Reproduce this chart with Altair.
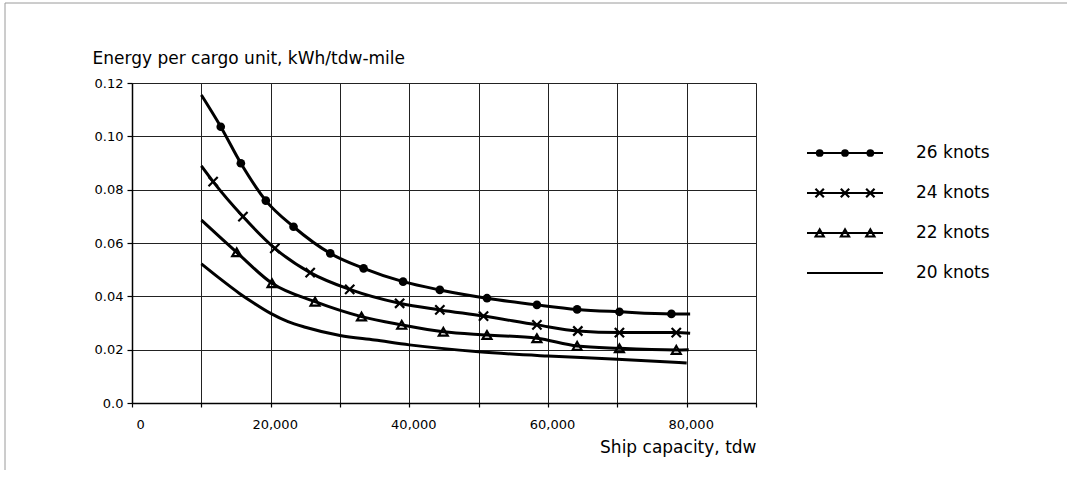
import altair as alt
import pandas as pd

# ---- data ----
series = ["26 knots", "24 knots", "22 knots", "20 knots"]

x26 = [10000, 12800, 15700, 19300, 23300, 28600, 33400, 39100, 44400, 51200, 58400, 64200, 70300, 77800, 80500]
y26 = [0.1155, 0.1036, 0.0899, 0.0759, 0.0661, 0.0561, 0.0505, 0.0455, 0.0424, 0.0393, 0.0368, 0.0351, 0.0342, 0.0334, 0.0334]
m26 = [0, 1, 1, 1, 1, 1, 1, 1, 1, 1, 1, 1, 1, 1, 0]

x24 = [10000, 11700, 16000, 20600, 25700, 31400, 38600, 44400, 50700, 58400, 64300, 70300, 78500, 80500]
y24 = [0.0889, 0.0830, 0.0699, 0.0580, 0.0489, 0.0426, 0.0374, 0.0349, 0.0326, 0.0293, 0.0270, 0.0264, 0.0264, 0.0262]
m24 = [0, 1, 1, 1, 1, 1, 1, 1, 1, 1, 1, 1, 1, 0]

x22 = [10000, 15100, 20200, 26400, 33100, 38900, 44900, 51200, 58400, 64200, 70300, 78500, 80300]
y22 = [0.0686, 0.0565, 0.0449, 0.0380, 0.0324, 0.0293, 0.0267, 0.0255, 0.0243, 0.0214, 0.0205, 0.0199, 0.0200]
m22 = [0, 1, 1, 1, 1, 1, 1, 1, 1, 1, 1, 1, 0]

x20 = [10000, 12500, 15500, 17500, 20000, 22500, 25000, 30000, 35000, 40000, 50000, 60000, 70000, 80000]
y20 = [0.0522, 0.0470, 0.0411, 0.0376, 0.0336, 0.0305, 0.0284, 0.0253, 0.0236, 0.0218, 0.0192, 0.0176, 0.0164, 0.0150]
m20 = [0] * len(x20)

x_ticks = list(range(0, 90001, 10000))
y_ticks = [0.0, 0.02, 0.04, 0.06, 0.08, 0.10, 0.12]
legend_slots = [1 / 6, 0.5, 5 / 6]

# ---- tables ----
rows = []
for name, xs, ys, ms in [("26 knots", x26, y26, m26), ("24 knots", x24, y24, m24),
                         ("22 knots", x22, y22, m22), ("20 knots", x20, y20, m20)]:
    for i, (xv, yv, mv) in enumerate(zip(xs, ys, ms)):
        rows.append({"series": name, "x": xv, "y": yv, "marker": mv, "order": i})
df = pd.DataFrame(rows)
df_m = df[df["marker"] == 1]

df_leg = pd.DataFrame({"series": series})
df_leg_m = pd.DataFrame([{"series": s, "slot": p} for s in series[:3] for p in legend_slots])

FONT = "DejaVu Sans"

x_axis = alt.Axis(
    values=x_ticks,
    labelExpr="datum.value % 20000 == 0 ? format(datum.value, ',') : ''",
    labelFontSize=13, labelPadding=11, labelOffset=4, tickSize=4,
    title="Ship capacity, tdw", titleFontSize=17, titleFontWeight="normal",
    titleAlign="right", titleAnchor="end", titleX=624, titleY=49, titleBaseline="alphabetic",
    grid=True,
)
y_axis = alt.Axis(
    values=y_ticks,
    labelExpr="datum.value == 0 ? '0.0' : format(datum.value, '.2f')",
    labelFontSize=13, labelPadding=4, tickSize=5,
    title="Energy per cargo unit, kWh/tdw-mile", titleFontSize=17, titleFontWeight="normal",
    titleAngle=0, titleAlign="left", titleX=-40, titleY=-20, titleBaseline="alphabetic",
    grid=True,
)
x_scale = alt.Scale(domain=[0, 90000], nice=False, zero=False)
y_scale = alt.Scale(domain=[0, 0.12], nice=False)
x_enc = alt.X("x:Q", scale=x_scale, axis=x_axis)
y_enc = alt.Y("y:Q", scale=y_scale, axis=y_axis)

lines = alt.Chart(df).mark_line(interpolate="monotone", color="black").encode(
    x=x_enc, y=y_enc, detail="series:N", order="order:Q",
    strokeWidth=alt.StrokeWidth("series:N", scale=alt.Scale(domain=series, range=[3, 3, 3, 2.6]), legend=None),
)
p26 = alt.Chart(df_m).transform_filter(alt.datum.series == "26 knots").mark_point(
    shape="circle", filled=True, color="black", size=75, opacity=1).encode(x=x_enc, y=y_enc)
p24 = alt.Chart(df_m).transform_filter(alt.datum.series == "24 knots").mark_point(
    shape="M-1,-1L1,1M-1,1L1,-1", filled=False, color="black", strokeWidth=2.2, size=85, opacity=1).encode(x=x_enc, y=y_enc)
p22 = alt.Chart(df_m).transform_filter(alt.datum.series == "22 knots").mark_point(
    shape="triangle-up", filled=False, color="black", strokeWidth=2.2, size=80, opacity=1).encode(x=x_enc, y=y_enc)

frame_top = alt.Chart(df_leg.head(1)).mark_rule(color="#9a9a9a", strokeWidth=1).encode(
    x=alt.value(-127), x2=alt.value(935), y=alt.value(-80))
frame_left = alt.Chart(df_leg.head(1)).mark_rule(color="#9a9a9a", strokeWidth=1).encode(
    x=alt.value(-127), y=alt.value(-80), y2=alt.value(387))

main = alt.layer(lines, p26, p24, p22, frame_top, frame_left)

# ---- legend (own scales, placed right of the plot) ----
lx = alt.Scale(domain=[0, 1], range=[675, 751])
ly = alt.Scale(type="point", domain=series, range=[70, 190], padding=0)

leg_lines = alt.Chart(df_leg).mark_rule(color="black").encode(
    x=alt.datum(0, scale=lx, axis=None), x2=alt.datum(1),
    y=alt.Y("series:N", scale=ly, axis=None),
    strokeWidth=alt.StrokeWidth("series:N", scale=alt.Scale(domain=series, range=[2, 2, 2, 3.5]), legend=None),
)
lm = df_leg_m
leg26 = alt.Chart(lm).transform_filter(alt.datum.series == "26 knots").mark_point(
    shape="circle", filled=True, color="black", size=60, opacity=1).encode(
    x=alt.X("slot:Q", scale=lx, axis=None), y=alt.Y("series:N", scale=ly, axis=None))
leg24 = alt.Chart(lm).transform_filter(alt.datum.series == "24 knots").mark_point(
    shape="M-1,-1L1,1M-1,1L1,-1", filled=False, color="black", strokeWidth=2.2, size=70, opacity=1).encode(
    x=alt.X("slot:Q", scale=lx, axis=None), y=alt.Y("series:N", scale=ly, axis=None))
leg22 = alt.Chart(lm).transform_filter(alt.datum.series == "22 knots").mark_point(
    shape="triangle-up", filled=False, color="black", strokeWidth=2.2, size=65, opacity=1).encode(
    x=alt.X("slot:Q", scale=lx, axis=None), y=alt.Y("series:N", scale=ly, axis=None))
leg_text = alt.Chart(df_leg).mark_text(
    align="left", baseline="middle", dx=33, fontSize=17, font=FONT, color="black").encode(
    x=alt.datum(1, scale=lx, axis=None), y=alt.Y("series:N", scale=ly, axis=None), text="series:N")

legend = alt.layer(leg_lines, leg26, leg24, leg22, leg_text)

chart = alt.layer(main, legend).resolve_scale(
    x="independent", y="independent", strokeWidth="independent"
).properties(
    width=624, height=320,
    autosize=alt.AutoSizeParams(type="none"),
    padding={"left": 132, "top": 83, "right": 311, "bottom": 92},
    background="white",
).configure_axis(
    labelFont=FONT, titleFont=FONT, labelColor="black", titleColor="black",
    domainColor="black", domainWidth=1.5, tickColor="black", tickWidth=1.2,
    gridColor="#222222", gridWidth=1, gridOpacity=1,
).configure_view(strokeWidth=0)

chart.save("out.html", embed_options={"renderer": "svg", "actions": False})
